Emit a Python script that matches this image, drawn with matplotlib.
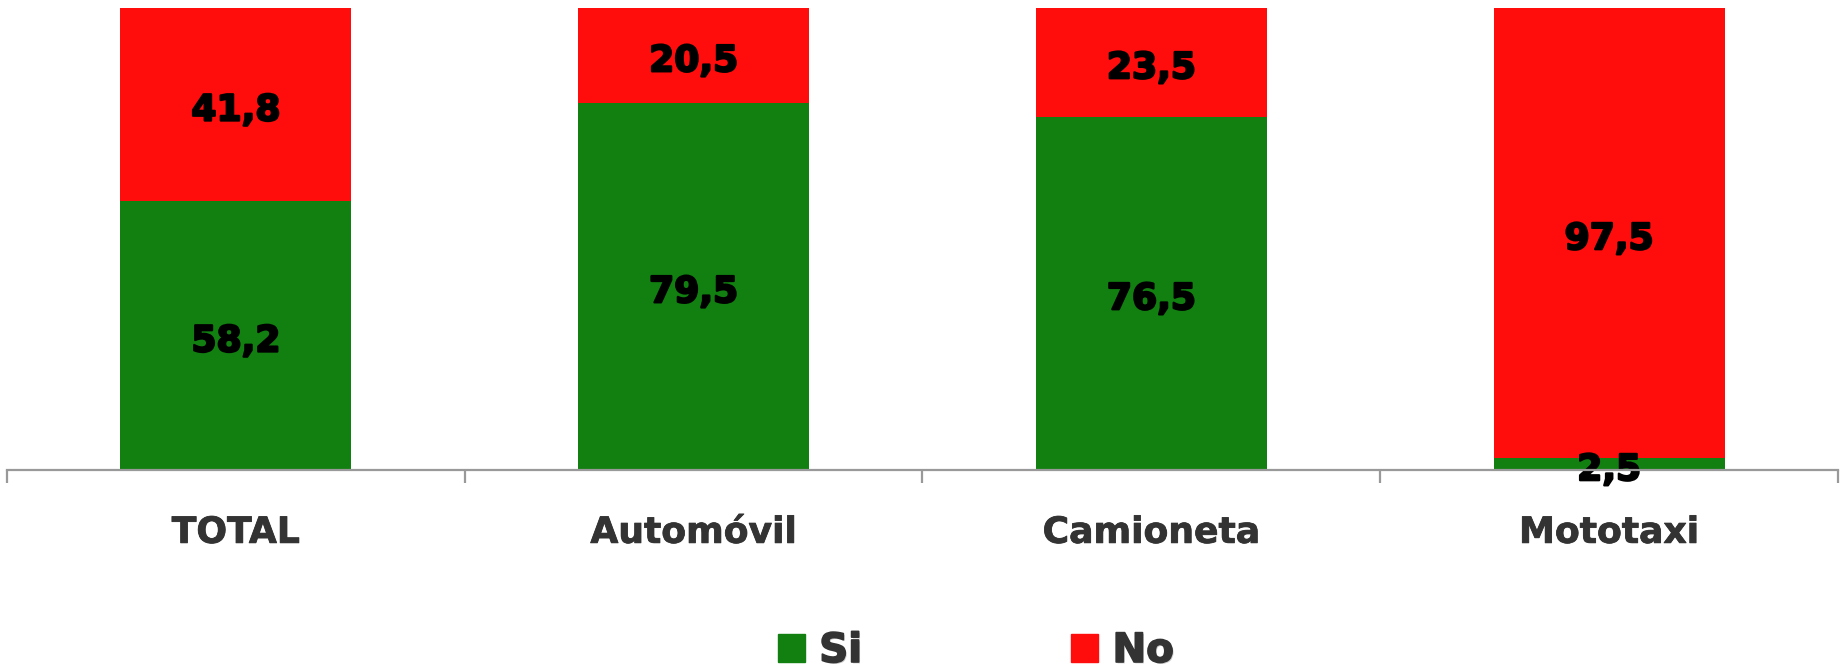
import matplotlib
matplotlib.use("Agg")
import matplotlib.pyplot as plt
import matplotlib.patheffects as pe
import matplotlib.transforms as mtransforms
from matplotlib.patches import Patch

categories = ["TOTAL", "Automóvil", "Camioneta", "Mototaxi"]
si_vals = [58.2, 79.5, 76.5, 2.5]
no_vals = [41.8, 20.5, 23.5, 97.5]
series_names = ["Si", "No"]

green = "#118011"
red = "#ff0d0d"

fig = plt.figure(figsize=(18.45, 6.71), dpi=100)
ax = fig.add_axes([7 / 1845, 1 - 470 / 671, (1838 - 7) / 1845, (470 - 8) / 671])

x = range(len(categories))
ax.bar(x, si_vals, width=0.505, color=green, zorder=2)
ax.bar(x, no_vals, width=0.505, bottom=si_vals, color=red, zorder=2)

def fmt(v):
    return ("%.1f" % v).replace(".", ",")

# labels sit a little lower than the plain centre
lbl_tr = ax.transData + mtransforms.ScaledTranslation(0, -6 / 100, fig.dpi_scale_trans)
heavy = [pe.withStroke(linewidth=1.6, foreground="black")]
for i in x:
    ax.text(i, si_vals[i] / 2, fmt(si_vals[i]), ha="center", va="center", transform=lbl_tr,
            fontsize=26, fontweight="bold", color="black", zorder=3, path_effects=heavy)
    ax.text(i, si_vals[i] + no_vals[i] / 2, fmt(no_vals[i]), ha="center", va="center", transform=lbl_tr,
            fontsize=26, fontweight="bold", color="black", zorder=3, path_effects=heavy)

ax.set_xlim(-0.5, len(categories) - 0.5)
ax.set_ylim(0, 100)
for s in ["top", "right", "left"]:
    ax.spines[s].set_visible(False)
ax.spines["bottom"].set_color("#999999")
ax.spines["bottom"].set_linewidth(1.6)
ax.spines["bottom"].set_zorder(4)
ax.set_yticks([])
ax.set_xticks(list(x))
ax.set_xticklabels(categories, fontsize=26, fontweight="bold", color="#333333")
ax.tick_params(axis="x", which="major", length=0, pad=33)
ax.set_xticks([i - 0.5 for i in range(len(categories) + 1)], minor=True)
ax.tick_params(axis="x", which="minor", length=9, width=1.6, color="#999999", direction="out")
for t in ax.get_xticklabels():
    t.set_path_effects([pe.withStroke(linewidth=0.6, foreground="#333333")])

shadow = [pe.withSimplePatchShadow(offset=(1, -1), shadow_rgbFace="#cccccc", alpha=1),
          pe.withStroke(linewidth=1.2, foreground="#333333")]
handles = [Patch(color=green), Patch(color=red)]
leg = fig.legend(handles, series_names, loc="center", bbox_to_anchor=(976 / 1845, 1 - 651 / 671),
                 ncol=2, frameon=False, handlelength=0.67, handleheight=0.67,
                 handletextpad=0.35, columnspacing=5.2,
                 prop={"size": 29, "weight": "bold"})
for t in leg.get_texts():
    t.set_color("#333333")
    t.set_path_effects(shadow)

fig.savefig("out.png", dpi=100, facecolor="white")
